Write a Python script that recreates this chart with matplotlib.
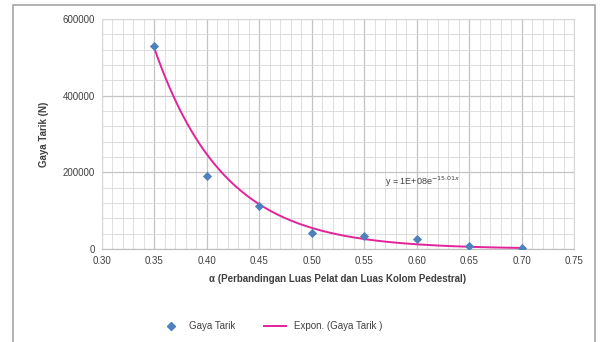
import numpy as np
import matplotlib
matplotlib.use("Agg")
import matplotlib.pyplot as plt
from matplotlib.patches import Rectangle
from matplotlib.lines import Line2D

alpha = [0.35, 0.40, 0.45, 0.50, 0.55, 0.60, 0.65, 0.70]
gaya_tarik = [530000, 190000, 112000, 42000, 34000, 26000, 9000, 2000]
xticks = [0.30, 0.35, 0.40, 0.45, 0.50, 0.55, 0.60, 0.65, 0.70, 0.75]
yticks = [0, 200000, 400000, 600000]
# trendline coefficients as shown on the chart: y = a * e^(b x)
trend_a = 1e8
trend_b = -15.01

plt.rcParams['font.family'] = ['Liberation Sans', 'DejaVu Sans']
txt = "#404040"
blue = "#4F81BD"
pink = "#E2239A"

fig = plt.figure(figsize=(6.02, 3.42), dpi=100)
fig.patch.set_facecolor("white")
# chart frame (partially cropped in the reference)
fig.patches.append(Rectangle((13 / 602, -0.1), 582 / 602, 1.1 - 5 / 342, transform=fig.transFigure,
                             fill=False, edgecolor="#A6A6A6", linewidth=1.2))

ax = fig.add_axes([102 / 602, 1 - 249 / 342, 472 / 602, 230 / 342])
ax.set_xlim(0.30, 0.75)
ax.set_ylim(0, 600000)
ax.set_xticks(xticks)
ax.set_xticklabels([f"{t:.2f}" for t in xticks])
ax.set_yticks(yticks)
ax.set_yticklabels([str(t) for t in yticks])
ax.set_xticks(np.arange(0.30, 0.7501, 0.01), minor=True)
ax.set_yticks(np.arange(0, 600001, 40000), minor=True)
ax.grid(True, which="major", color="#C4C4C4", linewidth=0.9)
ax.grid(True, which="minor", color="#D9D9D9", linewidth=0.6)
ax.set_axisbelow(True)
for s in ax.spines.values():
    s.set_color("#D9D9D9")
    s.set_linewidth(0.8)
ax.spines['bottom'].set_color("#BFBFBF")
ax.tick_params(which="both", length=0, labelsize=7, colors=txt, pad=5)

xs = np.linspace(min(alpha), max(alpha), 200)
ax.plot(xs, trend_a * np.exp(trend_b * xs), color=pink, linewidth=1.4, zorder=3)
ax.scatter(alpha, gaya_tarik, marker="D", s=22, color=blue, zorder=4, linewidths=0)

ax.text(0.57, 166000, "y = 1E+08e$^{-15.01x}$", fontsize=6.5, color=txt)
ax.set_xlabel("\u03b1 (Perbandingan Luas Pelat dan Luas Kolom Pedestral)",
              fontsize=7, fontweight="bold", color=txt, labelpad=6)
ax.set_ylabel("Gaya Tarik (N)", fontsize=7, fontweight="bold", color=txt, labelpad=10)

handles = [Line2D([], [], marker="D", linestyle="none", color=blue, markersize=4),
           Line2D([], [], color=pink, linewidth=1.4)]
fig.legend(handles, ["Gaya Tarik", "Expon. (Gaya Tarik )"], loc="center",
           bbox_to_anchor=(0.45, 1 - 326 / 342), ncol=2, frameon=False, fontsize=7,
           labelcolor=txt, columnspacing=3, handlelength=2.2)

fig.savefig("out.png", dpi=100)
